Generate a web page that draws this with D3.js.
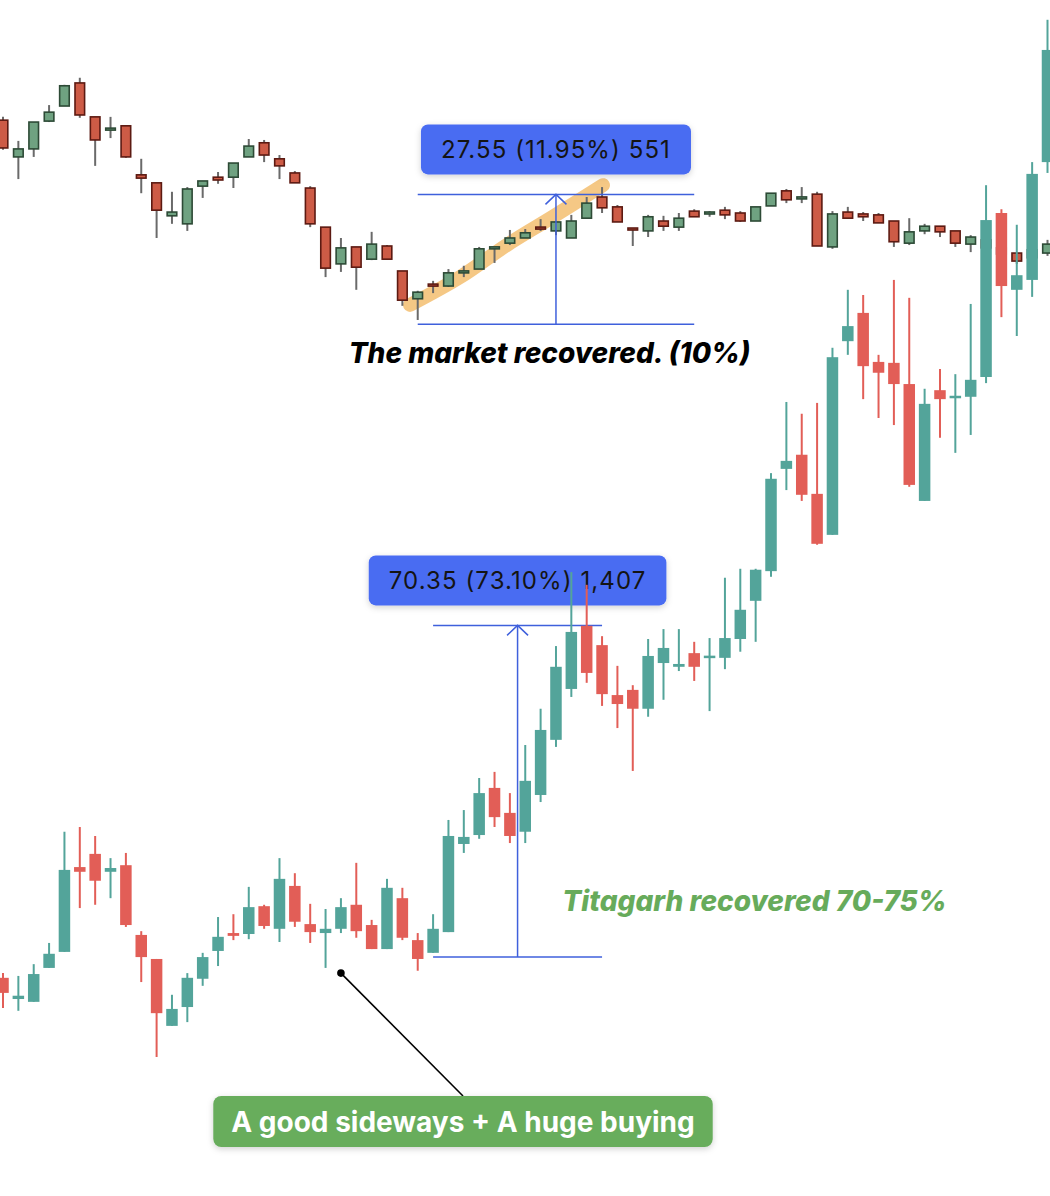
<!DOCTYPE html>
<html>
<head>
<meta charset="utf-8">
<script src="https://cdn.jsdelivr.net/npm/d3@7"></script>
<style>
  body { margin: 0; background: #fff; }
  svg { display: block; }
</style>
</head>
<body>
<svg id="chart" width="1050" height="1196"></svg>
<script>
// Trading sessions (same bars for both instruments)
const sessions = d3.range(69);

// Market index candles
const marketOpen  = [273.8,266.0,267.7,273.6,276.8,281.7,274.5,271.7,272.6,262.2,260.5,253.5,251.8,259.8,261.7,261.7,266.0,269.0,265.6,262.6,259.4,251.1,243.3,246.9,244.3,247.1,241.8,235.9,239.0,238.6,241.4,242.2,246.5,247.7,248.8,251.1,250.3,248.8,253.0,257.5,255.4,250.9,250.3,252.4,251.1,254.5,253.9,254.7,254.1,252.4,255.6,258.8,257.1,258.1,246.9,254.3,253.9,253.7,252.4,247.7,250.3,251.3,250.3,247.5,248.4,246.7,245.6,244.6,245.6];
const marketHigh  = [274.5,269.4,273.4,277.0,281.3,282.8,274.5,274.5,272.6,265.6,260.5,258.6,259.6,260.9,262.8,264.7,269.8,269.6,266.4,263.0,259.8,251.1,248.8,246.9,250.1,247.3,241.8,237.6,239.7,242.2,242.9,246.9,246.9,250.5,250.7,252.8,252.2,253.7,257.5,259.6,255.8,250.9,253.7,253.5,254.1,254.9,254.5,255.4,254.5,255.4,258.3,259.2,259.6,258.6,254.5,255.4,254.3,254.1,252.4,253.0,251.8,251.3,250.3,249.4,249.2,247.5,245.6,246.9,248.4];
const marketLow   = [267.5,261.3,266.0,273.4,276.8,274.3,264.1,270.0,265.8,258.3,248.8,251.8,250.3,257.3,260.3,259.4,266.0,264.9,261.3,260.5,251.1,240.5,241.6,237.8,244.1,244.3,234.4,231.4,237.1,238.4,240.5,242.2,243.5,247.3,248.8,250.3,249.4,248.8,253.0,254.1,252.2,247.1,249.0,250.3,250.3,253.3,253.3,252.8,252.2,252.4,255.6,256.2,256.2,247.1,246.5,253.0,252.4,252.0,246.9,247.3,249.6,249.0,246.9,245.8,245.8,244.6,243.3,243.9,245.0];
const marketClose = [267.9,267.7,273.4,275.5,281.1,274.9,269.6,272.1,266.0,261.5,254.7,254.3,259.2,260.9,261.1,264.7,268.3,266.4,264.1,260.5,251.8,242.4,246.7,242.6,247.5,244.3,235.6,237.3,238.6,241.4,241.8,246.5,246.9,248.8,249.9,250.7,252.2,252.4,256.2,255.2,252.2,250.5,253.3,251.3,253.0,253.3,254.3,253.7,252.4,255.4,258.3,256.9,257.5,247.1,253.9,253.0,253.3,252.0,248.0,250.1,251.3,250.1,247.7,249.0,246.7,245.4,243.9,246.3,247.5];

// Titagarh candles
const titaOpen  = [91.8,87.3,86.7,93.9,97.3,115.3,118.1,114.3,115.7,100.9,95.8,81.6,85.6,91.6,97.5,101.3,101.1,107.0,102.2,111.3,103.2,101.3,102.2,107.3,103.0,97.9,108.7,99.8,97.1,101.5,120.2,122.1,132.1,126.8,122.8,130.6,142.3,153.1,166.5,162.4,151.8,152.9,148.9,158.6,157.8,160.7,159.7,159.7,163.7,171.8,178.1,199.8,202.8,194.5,185.8,226.9,232.9,222.5,222.3,217.8,193.0,216.5,214.8,215.1,219.3,254.1,237.8,239.9,264.9];
const titaHigh  = [92.8,92.2,94.7,99.2,122.8,123.8,121.9,117.2,118.3,101.7,95.8,88.2,92.8,97.1,104.7,105.3,111.1,107.3,117.2,114.0,107.5,106.4,108.7,116.2,104.1,112.8,110.9,101.3,105.3,125.3,127.4,134.2,135.5,131.0,141.2,148.9,162.2,177.9,175.2,164.3,158.0,153.9,163.7,165.8,165.8,163.1,163.9,176.7,178.6,178.6,198.9,214.0,211.5,213.8,225.5,237.8,236.7,224.0,239.9,236.1,216.8,221.0,219.9,234.8,260.0,254.9,251.6,264.9,295.1];
const titaLow   = [85.4,84.8,86.7,93.9,97.3,106.6,107.3,108.7,102.6,90.9,75.0,81.6,82.4,90.1,94.3,99.8,100.0,102.2,99.4,102.6,99.2,93.9,101.3,100.3,97.9,97.9,99.8,93.3,97.1,101.5,118.3,121.3,123.8,120.4,120.4,129.1,140.8,151.4,154.4,149.5,144.8,135.7,147.2,150.8,156.9,154.8,148.4,157.3,161.0,163.1,176.9,195.3,193.0,183.7,185.8,224.0,214.6,210.6,209.1,196.0,193.0,206.4,203.2,207.0,218.0,232.0,228.0,236.3,262.6];
const titaClose = [88.6,88.0,92.6,96.9,114.7,114.3,112.4,115.1,103.0,96.2,84.3,85.2,91.8,96.2,100.5,100.7,106.8,102.8,112.8,103.7,101.5,102.2,106.8,101.7,97.9,110.9,100.3,95.8,102.2,121.9,121.7,131.0,125.9,121.9,133.6,144.4,157.8,165.2,156.5,152.0,149.9,148.9,160.1,161.8,158.4,157.8,160.1,163.9,169.9,178.4,197.7,201.5,194.3,183.9,223.5,230.1,221.6,220.2,217.8,196.4,213.6,214.6,215.3,218.7,252.6,238.6,240.9,262.4,288.7];

// Price-range measurements: [from, to] prices and [first, last] session
const marketRange = [230.5, 258.05];
const marketRangeBars = [27, 45];
const marketRangeVol = "551";
const titaRange = [96.24, 166.59];
const titaRangeBars = [28, 39];
const titaRangeVol = "1,407";

// Hand-drawn highlight along the market rebound: [session, price]
const reboundTrail = [[26.5, 234.6], [29.75, 240.5], [32.8, 247.3], [35.8, 253.3], [39.06, 260.0]];

const W = 1050, H = 1196;
const svg = d3.select('#chart');
const x = d3.scaleLinear().domain([0, 68]).range([3, 1047.5]);
const y = d3.scaleLinear().domain([45.5, 299.3]).range([H, 0]);
const font = 'Inter, "Noto Sans", sans-serif';

const defs = svg.append('defs');
const sh = defs.append('filter').attr('id', 'shadow')
  .attr('x', '-10%').attr('y', '-30%').attr('width', '120%').attr('height', '170%');
sh.append('feDropShadow').attr('dx', 0).attr('dy', 2).attr('stdDeviation', 3)
  .attr('flood-color', '#000').attr('flood-opacity', 0.18);

svg.append('rect').attr('width', W).attr('height', H).attr('fill', '#fff');

// highlight stroke behind the market candles
svg.append('path')
  .datum(reboundTrail)
  .attr('d', d3.line().x(d => x(d[0])).y(d => y(d[1])).curve(d3.curveCatmullRom))
  .attr('fill', 'none').attr('stroke', '#f4c074').attr('stroke-opacity', 0.88)
  .attr('stroke-width', 14).attr('stroke-linecap', 'round').attr('stroke-linejoin', 'round');

function drawCandles(g, O, Hh, L, C, st) {
  sessions.forEach(i => {
    const up = C[i] >= O[i];
    const cx = x(i);
    g.append('line')
      .attr('x1', cx).attr('x2', cx)
      .attr('y1', y(Hh[i])).attr('y2', y(L[i]))
      .attr('stroke', st.wick || (up ? st.up : st.down))
      .attr('stroke-width', 2);
    let t = y(Math.max(O[i], C[i])), b = y(Math.min(O[i], C[i]));
    if (b - t < st.minH) { const m = (t + b) / 2; t = m - st.minH / 2; b = m + st.minH / 2; }
    g.append('rect')
      .attr('x', cx - st.w / 2).attr('y', t)
      .attr('width', st.w).attr('height', b - t)
      .attr('fill', up ? st.up : st.down)
      .attr('stroke', st.stroke ? (up ? st.stroke[0] : st.stroke[1]) : 'none')
      .attr('stroke-width', st.stroke ? 1.6 : 0);
  });
}

// market index candles (outlined)
drawCandles(svg.append('g'), marketOpen, marketHigh, marketLow, marketClose, {
  up: '#6fa281', down: '#cd5b46', stroke: ['#2d4a36', '#5c1a12'], wick: '#6a6a6a', w: 9.6, minH: 2
});

// price range tool
const blue = '#3f60dc';
function rangeTool(range, bars, vol) {
  const g = svg.append('g');
  const x0 = x(bars[0]), x1 = x(bars[1]), xm = (x0 + x1) / 2;
  const yTop = y(range[1]), yBot = y(range[0]);
  [yTop, yBot].forEach(v => g.append('line').attr('x1', x0).attr('x2', x1)
    .attr('y1', v).attr('y2', v).attr('stroke', blue).attr('stroke-width', 1.5));
  g.append('line').attr('x1', xm).attr('x2', xm).attr('y1', yTop).attr('y2', yBot)
    .attr('stroke', blue).attr('stroke-width', 1.5);
  g.append('path').attr('d', `M${xm - 10.5},${yTop + 10} L${xm},${yTop} L${xm + 10.5},${yTop + 10}`)
    .attr('fill', 'none').attr('stroke', blue).attr('stroke-width', 1.5);
  const change = range[1] - range[0];
  const pct = change / range[0] * 100;
  const label = `${change.toFixed(2)} (${pct.toFixed(2)}%) ${vol}`;
  const txt = g.append('text').attr('x', xm).attr('y', yTop - 20 - 25 + 8.5)
    .attr('text-anchor', 'middle').attr('font-family', font)
    .attr('font-size', 24).attr('letter-spacing', 1.1).attr('fill', '#141414').text(label);
  const bw = txt.node().getComputedTextLength() + 40;
  g.insert('rect', 'text').attr('x', xm - bw / 2).attr('y', yTop - 20 - 50)
    .attr('width', bw).attr('height', 50).attr('rx', 7)
    .attr('fill', '#4a6cf2').attr('filter', 'url(#shadow)');
}
rangeTool(marketRange, marketRangeBars, marketRangeVol);
rangeTool(titaRange, titaRangeBars, titaRangeVol);

// Titagarh candles (drawn on top)
drawCandles(svg.append('g'), titaOpen, titaHigh, titaLow, titaClose, {
  up: '#53a49a', down: '#e25e57', w: 11.5, minH: 2.5
});

// notes
svg.append('text').attr('x', 549.5).attr('y', 363).attr('text-anchor', 'middle')
  .attr('font-family', font).attr('font-size', 28).attr('font-weight', 800)
  .attr('font-style', 'italic').attr('fill', '#000').text('The market recovered. (10%)');
svg.append('text').attr('x', 754.5).attr('y', 911).attr('text-anchor', 'middle')
  .attr('font-family', font).attr('font-size', 28).attr('font-weight', 800)
  .attr('font-style', 'italic').attr('fill', '#67ab5b').text('Titagarh recovered 70-75%');

// callout
const dot = [22, 92.8];
const boxC = [463, 1096];
svg.append('line').attr('x1', x(dot[0])).attr('y1', y(dot[1])).attr('x2', boxC[0]).attr('y2', boxC[1])
  .attr('stroke', '#000').attr('stroke-width', 1.6);
svg.append('circle').attr('cx', x(dot[0])).attr('cy', y(dot[1])).attr('r', 3.8).attr('fill', '#000');
const cg = svg.append('g');
const ct = cg.append('text').attr('x', boxC[0]).attr('y', boxC[1] + 35.5).attr('text-anchor', 'middle')
  .attr('font-family', font).attr('font-size', 28).attr('font-weight', 700).attr('fill', '#fff')
  .text('A good sideways + A huge buying');
const cw = ct.node().getComputedTextLength() + 36;
cg.insert('rect', 'text').attr('x', boxC[0] - cw / 2).attr('y', boxC[1]).attr('width', cw).attr('height', 51)
  .attr('rx', 8).attr('fill', '#67ad5c').attr('filter', 'url(#shadow)');
</script>
</body>
</html>
